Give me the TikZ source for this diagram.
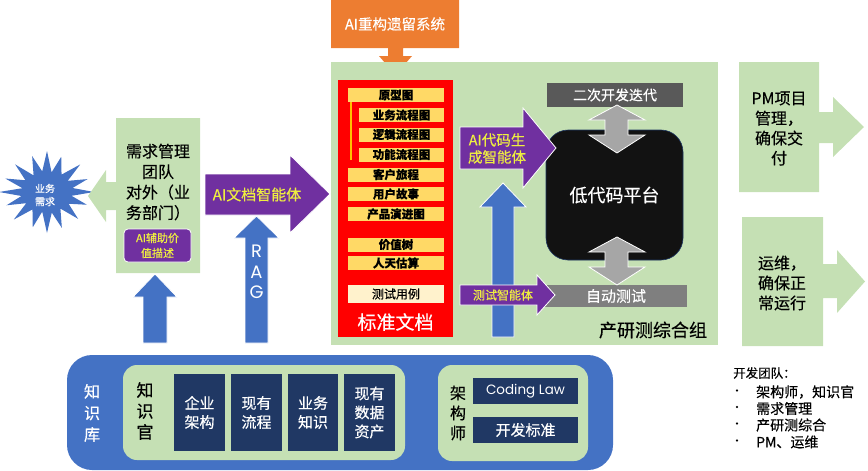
\documentclass[tikz,border=0pt]{standalone}
\usepackage{fontspec}
\setmainfont{Noto Sans CJK SC}[FakeBold=0.4]
\newfontfamily\geo{Poppins}
\definecolor{lgreen}{HTML}{C5E0B4}
\definecolor{blueA}{HTML}{4472C4}
\definecolor{purp}{HTML}{7030A0}
\definecolor{orangeA}{HTML}{ED7D31}
\definecolor{docyel}{HTML}{FFD966}
\definecolor{docyel2}{HTML}{FFF2CC}
\definecolor{navy}{HTML}{203864}
\definecolor{dgray}{HTML}{595959}
\definecolor{mgray}{HTML}{7F7F7F}
\definecolor{agray}{HTML}{A6A6A6}
\definecolor{aiyel}{HTML}{EEEE40}
\definecolor{goldline}{HTML}{FFC000}
\newcommand\fsz[2]{\fontsize{#1}{#2}\selectfont}
\tikzset{
  txt/.style={inner sep=0pt, align=center},
  item/.style={fill=docyel, inner sep=0pt, minimum height=14, font=\fsz{11.5}{14}\bfseries},
  navybox/.style={fill=navy, text=white, inner sep=0pt, align=center, font=\fsz{15}{19}},
  parr/.style={fill=purp, draw=white, line width=0.8},
  barr/.style={fill=blueA, draw=white, line width=0.8},
  garr/.style={fill=agray, draw=white, line width=0.8},
  greenshape/.style={fill=lgreen},
}
\begin{document}
\begin{tikzpicture}[x=1pt,y=-1pt]
\useasboundingbox (0,0) rectangle (868,471);

% starburst
\begin{scope}[shift={(47,192)}]
\fill[blueA] (47,0)
 \foreach \a/\rx/\ry in {11/25/20,22/43/34,34/26/21,45/44/38,56/24/20,67/38/39,79/25/21,90/30/41,101/25/20,112/38/38,124/26/21,135/47/39,146/25/20,157/44/34,169/26/21,180/48/33,191/25/20,202/45/36,214/26/21,225/45/39,236/24/20,247/38/39,259/25/21,270/30/41,281/24/20,292/38/38,304/26/21,315/47/39,326/25/20,337/44/33,349/26/21} { -- ({\rx*cos(\a)},{\ry*sin(\a)}) } -- cycle;
\end{scope}
\node[txt, text=white, font=\fsz{10}{13}] (biz) at (45,195) {业务\\需求};

% demand team box with left arrow
\fill[greenshape] (116,118) -- (200,118) -- (200,273) -- (116,273) -- (116,210) -- (106,210) -- (106,222) -- (88,196) -- (106,170) -- (106,182) -- (116,182) -- cycle;
\node[txt, font=\fsz{16}{20.5}] (need) at (158,182) {需求管理\\团队\\对外（业\\务部门）};
\node[fill=purp, draw=white, line width=0.8, rounded corners=4, minimum width=67, minimum height=33, inner sep=0pt, align=center, text=aiyel, font=\fsz{11}{15}] (aiv) at (157.5,245.5) {AI辅助价\\值描述};

% blue up arrows
\draw[barr] (143,343) -- (143,297) -- (133,297) -- (155,274) -- (177,297) -- (167,297) -- (167,343) -- cycle;
\draw[barr] (245,343) -- (245,238) -- (234,238) -- (256.5,216) -- (279,238) -- (268,238) -- (268,343) -- cycle;
\node[txt, text=white, font=\geo\fsz{18}{20.5}] (rag) at (256.5,272) {R\\A\\G};

% AI doc agent arrow
\draw[parr] (205,174) -- (290,174) -- (290,155) -- (330,194) -- (290,233) -- (290,215) -- (205,215) -- cycle;
\node[txt, text=aiyel, font=\fsz{15}{18}] (docagent) at (257,194.5) {AI文档智能体};

% orange callout
\fill[orangeA] (331,0) -- (459,0) -- (459,48) -- (403,48) -- (403,56) -- (412,56) -- (395.5,75) -- (379,56) -- (388,56) -- (388,48) -- (331,48) -- cycle;
\node[txt, text=white, font=\fsz{14.5}{17}] (legacy) at (395,24) {AI重构遗留系统};

% big panel
\fill[lgreen] (331,62) rectangle (718,345);
\node[txt, font=\fsz{18}{21}] (grp) at (653,330) {产研测综合组};

% red doc box
\node[fill=red, minimum width=115, minimum height=257, inner sep=0pt] (docs) at (395.5,208.5) {};
\node[txt, text=white, font=\fsz{19}{22}] (stddoc) at (395.5,322) {标准文档};
\draw[goldline, line width=2.5] (351,102) -- (351,160);
\node[item, minimum width=96] (i1) at (396,95) {原型图};
\node[item, minimum width=85] (i2) at (401.5,115) {业务流程图};
\node[item, minimum width=85] (i3) at (401.5,134.5) {逻辑流程图};
\node[item, minimum width=85] (i4) at (401.5,154.5) {功能流程图};
\node[item, minimum width=96] (i5) at (396,174.5) {客户旅程};
\node[item, minimum width=96] (i6) at (396,194) {用户故事};
\node[item, minimum width=96] (i7) at (396,214) {产品演进图};
\node[item, minimum width=96] (i8) at (396,244.5) {价值树};
\node[item, minimum width=96] (i9) at (396,263) {人天估算};
\node[item, fill=docyel2, minimum width=96, minimum height=18, font=\fsz{12}{14}] (i10) at (396,294) {测试用例};

% low-code platform
\node[fill=black!93, draw=navy, line width=0.6, rounded corners=22, minimum width=137, minimum height=130, inner sep=0pt, text=white, font=\fsz{18}{21}] (lowcode) at (614.5,195) {低代码平台};
\node[fill=dgray, minimum width=136, minimum height=24, inner sep=0pt, text=white, font=\fsz{14}{17}] (iter) at (615,95) {二次开发迭代};
\node[fill=mgray, minimum width=142, minimum height=22, inner sep=0pt, text=white, font=\fsz{15}{17}] (autotest) at (616,296) {自动测试};

% gray double arrows
\draw[garr] (617,105) -- (645,120) -- (628,120) -- (628,135) -- (645,135) -- (617,153) -- (589,135) -- (605,135) -- (605,120) -- (589,120) -- cycle;
\draw[garr] (617,237) -- (645,252) -- (628,252) -- (628,267) -- (645,267) -- (617,285) -- (589,267) -- (605,267) -- (605,252) -- (589,252) -- cycle;

% panel blue up arrow
\draw[barr] (492,337) -- (492,207) -- (480,207) -- (503,183) -- (526,207) -- (514,207) -- (514,337) -- cycle;

% AI code agent arrow
\draw[parr] (460,127) -- (523,127) -- (523,108) -- (556,148) -- (523,188) -- (523,169) -- (460,169) -- cycle;
\node[txt, text=aiyel, font=\fsz{14.5}{17}] (codeagent) at (497,148.5) {AI代码生\\成智能体};

% test agent arrow
\draw[parr] (460,285) -- (537,285) -- (537,275) -- (555,295) -- (537,315) -- (537,305) -- (460,305) -- cycle;
\node[txt, text=aiyel, font=\fsz{12}{14}] (testagent) at (503,295) {测试智能体};

% right side boxes
\fill[greenshape] (739,62) -- (819,62) -- (819,112) -- (833,112) -- (833,97) -- (864,127) -- (833,157) -- (833,143) -- (819,143) -- (819,192) -- (739,192) -- cycle;
\node[txt, font=\fsz{16}{20}] (pm) at (779,128.5) {PM项目\\管理，\\确保交\\付};
\fill[greenshape] (742,217) -- (823,217) -- (823,264) -- (837,264) -- (837,250) -- (865,281.5) -- (837,313) -- (837,298) -- (823,298) -- (823,346) -- (742,346) -- cycle;
\node[txt, font=\fsz{16}{20}] (ops) at (782,283) {运维，\\确保正\\常运行};

% knowledge base
\node[fill=blueA, rounded corners=25, minimum width=546, minimum height=115, inner sep=0pt] (kb) at (340,412.5) {};
\node[txt, text=white, font=\fsz{16}{21.5}] (kbl) at (92,413) {知\\识\\库};
\node[fill=lgreen, rounded corners=14, minimum width=282, minimum height=95, inner sep=0pt] (ko) at (264,412.5) {};
\node[txt, font=\fsz{17}{21}] (kol) at (145,411) {知\\识\\官};
\node[navybox, minimum width=51, minimum height=77] (n1) at (199.5,412.5) {企业\\架构};
\node[navybox, minimum width=51, minimum height=77] (n2) at (256.5,412.5) {现有\\流程};
\node[navybox, minimum width=50, minimum height=77] (n3) at (313,412.5) {业务\\知识};
\node[navybox, minimum width=51, minimum height=77] (n4) at (369.5,412.5) {现有\\数据\\资产};
\node[fill=lgreen, rounded corners=14, minimum width=150, minimum height=96, inner sep=0pt] (arch) at (513,413) {};
\node[txt, font=\fsz{16}{20}] (archl) at (458,413) {架\\构\\师};
\node[navybox, minimum width=105, minimum height=26, font=\geo\fsz{13.5}{17}] (cl) at (525.5,391) {Coding Law};
\node[navybox, minimum width=105, minimum height=26] (ds) at (525.5,430) {开发标准};

% team list
\node[anchor=west, inner sep=0pt, font=\fsz{12.5}{15}] (team) at (733,373) {开发团队：};
\foreach \y/\t/\n in {392/架构师，知识官/t1,408.5/需求管理/t2,425/产研测综合/t3,442/PM、运维/t4}{
  \node[inner sep=0pt, font=\fsz{11}{14}] (b\n) at (737,\y) {•};
  \node[anchor=west, inner sep=0pt, font=\fsz{14}{15}] (\n) at (756,\y) {\t};
}
\end{tikzpicture}
\end{document}
